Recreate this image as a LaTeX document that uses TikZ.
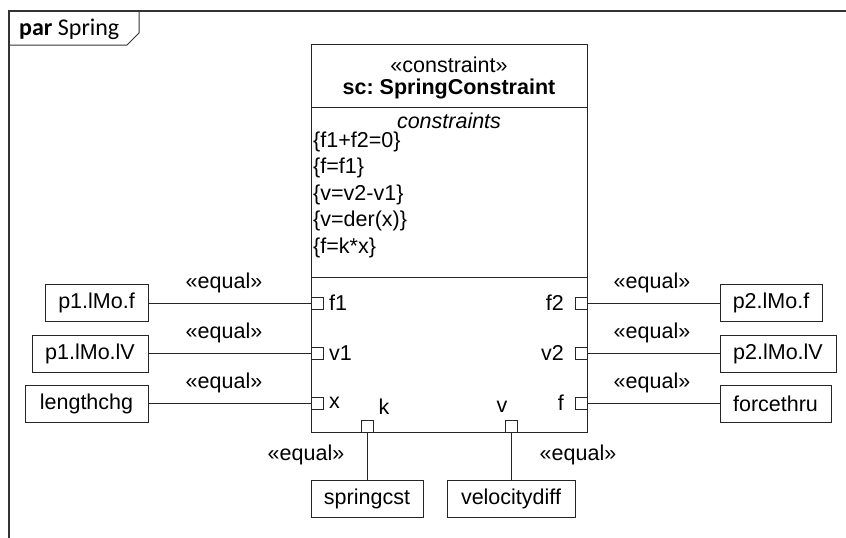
\documentclass[tikz,border=0pt]{standalone}
\usepackage{fontspec}
\setmainfont{Liberation Sans}
\newfontfamily\calfont{Carlito}
\frenchspacing
\begin{document}
\begin{tikzpicture}[x=1pt,y=-1pt,
  every node/.style={font=\fontsize{21.5}{25}\selectfont},
  valbox/.style={draw=black!85, line width=1pt, rectangle, inner sep=0pt, minimum height=37pt},
  port/.style={draw=black!85, line width=1pt, fill=white, rectangle, inner sep=0pt, minimum width=12pt, minimum height=12pt},
  conn/.style={draw=black!85, line width=1pt},
  lbl/.style={inner sep=0pt},
  ctext/.style={inner sep=0pt, anchor=west}
]
\useasboundingbox (0,0) rectangle (846,538);
% frame
\draw[line width=1.3pt, black!80] (846,11) -- (9,11) -- (9,538);
\draw[line width=1pt, black!80] (9,45) -- (127,45) -- (139,33) -- (139,11);
\node[lbl, anchor=west, font=\calfont\fontsize{24}{28}\selectfont] (title) at (19,29) {\textbf{par} Spring};

% block
\draw[line width=1pt, black!85] (311,44) rectangle (587,432);
\draw[line width=1pt, black!85] (311,107) -- (587,107);
\draw[line width=1pt, black!85] (311,277) -- (587,277);
\node[lbl] (stereo) at (449,65) {«constraint»};
\node[lbl] (bname) at (449,89) {\textbf{sc: SpringConstraint}};
\node[lbl] (ctitle) at (449,121) {\textit{constraints}};
\node[ctext] (c1) at (313,141.5) {\{f1+f2=0\}};
\node[ctext] (c2) at (313,168) {\{f=f1\}};
\node[ctext] (c3) at (313,194.5) {\{v=v2-v1\}};
\node[ctext] (c4) at (313,221) {\{v=der(x)\}};
\node[ctext] (c5) at (313,247.5) {\{f=k*x\}};

% ports
\node[port] (pf1) at (317,303) {};
\node[port] (pv1) at (317,353) {};
\node[port] (px)  at (317,403) {};
\node[port] (pf2) at (581,303) {};
\node[port] (pv2) at (581,353) {};
\node[port] (pf)  at (581,403) {};
\node[port] (pk)  at (367,426) {};
\node[port] (pv)  at (511,426) {};

% port labels
\node[lbl, anchor=west] (lf1) at (329,303) {f1};
\node[lbl, anchor=west] (lv1) at (329,353) {v1};
\node[lbl, anchor=west] (lx)  at (329,403) {x};
\node[lbl, anchor=east] (lf2) at (564,303) {f2};
\node[lbl, anchor=east] (lv2) at (564,353) {v2};
\node[lbl, anchor=east] (lf)  at (564,403) {f};
\node[lbl] (lk) at (384,407) {k};
\node[lbl] (lv) at (502,407) {v};

% value boxes
\node[valbox, minimum width=103pt] (p1f) at (96.5,303) {p1.lMo.f};
\node[valbox, minimum width=116pt] (p1v) at (90,353.5) {p1.lMo.lV};
\node[valbox, minimum width=123pt] (len) at (86.5,404) {lengthchg};
\node[valbox, minimum width=102pt] (p2f) at (771,303) {p2.lMo.f};
\node[valbox, minimum width=116pt] (p2v) at (778,353.5) {p2.lMo.lV};
\node[valbox, minimum width=111pt] (frc) at (775.5,404) {forcethru};
\node[valbox, minimum width=112pt] (spc) at (367,498.5) {springcst};
\node[valbox, minimum width=128pt] (vdf) at (511,498.5) {velocitydiff};

% connectors
\draw[conn] (p1f.east) -- (pf1.west);
\draw[conn] (p1v.east |- pv1) -- (pv1.west);
\draw[conn] (len.east |- px) -- (px.west);
\draw[conn] (pf2.east) -- (p2f.west);
\draw[conn] (pv2.east) -- (p2v.west |- pv2);
\draw[conn] (pf.east) -- (frc.west |- pf);
\draw[conn] (pk.south) -- (spc.north);
\draw[conn] (pv.south) -- (vdf.north);

% equal labels
\node[lbl] (e1) at (224,283) {«equal»};
\node[lbl] (e2) at (224,333) {«equal»};
\node[lbl] (e3) at (224,383) {«equal»};
\node[lbl] (e4) at (652,283) {«equal»};
\node[lbl] (e5) at (652,333) {«equal»};
\node[lbl] (e6) at (652,383) {«equal»};
\node[lbl] (e7) at (306,455) {«equal»};
\node[lbl] (e8) at (578,455) {«equal»};
\end{tikzpicture}
\end{document}
